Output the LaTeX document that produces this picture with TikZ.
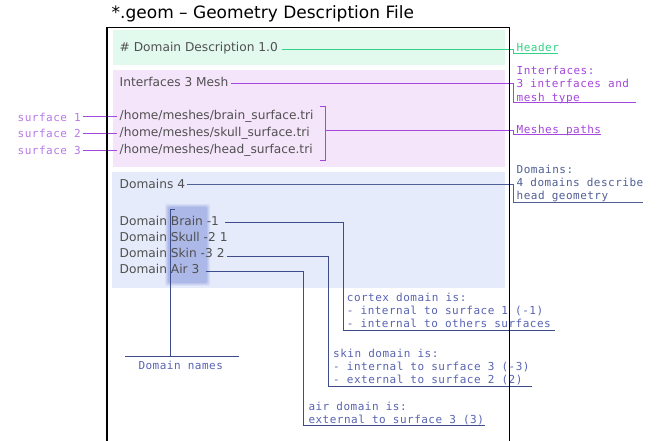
\documentclass[tikz,border=0pt]{standalone}
\usepackage{fontspec}
\setmainfont{DejaVu Sans}
\newfontfamily\notefont[LetterSpace=4.5]{DejaVu Sans Mono}
\usetikzlibrary{calc}
\definecolor{bandgreen}{RGB}{226,249,238}
\definecolor{bandpink}{RGB}{245,229,250}
\definecolor{bandblue}{RGB}{229,235,250}
\definecolor{hilite}{RGB}{172,184,232}
\definecolor{codegray}{RGB}{80,80,80}
\definecolor{hdrgreen}{RGB}{50,210,135}
\definecolor{ifpurple}{RGB}{165,70,220}
\definecolor{surfviolet}{RGB}{182,122,232}
\definecolor{domslate}{RGB}{80,95,150}
\definecolor{domtext}{RGB}{88,100,178}
\definecolor{domline}{RGB}{62,76,140}
\begin{document}
\begin{tikzpicture}[x=1pt,y=-1pt,
  codetxt/.style={font=\fontsize{12.2}{14}\selectfont, text=codegray, anchor=west, inner sep=0pt},
  notetxt/.style={font=\fontsize{11}{13.4}\selectfont\notefont, anchor=north west, inner sep=0pt, align=left},
  lead/.style={line width=1pt},
]
\useasboundingbox (0,0) rectangle (657,441);
\fill[white] (0,0) rectangle (657,441);

% title
\node[anchor=west, inner sep=0pt, font=\fontsize{17}{20}\selectfont] (title) at (111.5,13.5) {*.geom – Geometry Description File};

% bands
\fill[bandgreen] (113,30) rectangle (505,65.5);
\fill[bandpink] (113,70.5) rectangle (505,167.5);
\fill[bandblue] (112,172) rectangle (505,288);

% highlight behind domain names
\foreach \e/\o in {3/0.2,2/0.3,1/0.45,0/1}{
  \fill[hilite, opacity=\o, rounded corners=2pt] (168-\e,207-\e) rectangle (207+\e,283+\e);
}

% code lines
\node[codetxt] (hdrtxt) at (119.5,47.7) {\# Domain Description 1.0};
\node[codetxt] (iftxt) at (119.5,81.7) {Interfaces 3 Mesh};
\node[codetxt] (path1) at (119.5,116.7) {/home/meshes/brain\_surface.tri};
\node[codetxt] (path2) at (119.5,133.3) {/home/meshes/skull\_surface.tri};
\node[codetxt] (path3) at (119.5,150.5) {/home/meshes/head\_surface.tri};
\node[codetxt] (domtxt) at (119.5,184) {Domains 4};
\node[codetxt] (d1) at (119.5,220.5) {Domain Brain -1};
\node[codetxt] (d2) at (119.5,236.8) {Domain Skull -2 1};
\node[codetxt] (d3) at (119.5,253) {Domain Skin -3 2};
\node[codetxt] (d4) at (119.5,269.2) {Domain Air 3};

% surface labels
\node[notetxt, text=surfviolet, anchor=east] (s1) at (81,117) {surface 1};
\node[notetxt, text=surfviolet, anchor=east] (s2) at (81,133.5) {surface 2};
\node[notetxt, text=surfviolet, anchor=east] (s3) at (81,150.8) {surface 3};
\draw[lead, ifpurple] ($(s1.east)+(2,0)$) -- ($(s1.east -| path1.west)+(-3,0)$);
\draw[lead, ifpurple] ($(s2.east)+(2,0)$) -- ($(s2.east -| path2.west)+(-3,0)$);
\draw[lead, ifpurple] ($(s3.east)+(2,0)$) -- ($(s3.east -| path3.west)+(-3,0)$);

% right-hand notes
\node[notetxt, text=hdrgreen] (hdrnote) at (516.5,42.5) {Header};
\node[notetxt, text=ifpurple] (ifnote) at (516.5,66) {Interfaces:\\3 interfaces and\\mesh type};
\node[notetxt, text=ifpurple] (meshnote) at (516.5,124.5) {Meshes paths};
\node[notetxt, text=domslate] (domnote) at (516.5,164.5) {Domains:\\4 domains describe\\head geometry};

% connector corners
\coordinate (hdrK) at (513,49.3);
\coordinate (hdrU) at (558,53.3);
\coordinate (ifK) at (513,83.3);
\coordinate (ifU) at (636,102.7);
\coordinate (meshK) at (513,131);
\coordinate (meshU) at (601,135);
\coordinate (domK) at (513,184.5);
\coordinate (domU) at (643,203);

\draw[lead, hdrgreen] ($(hdrtxt.east |- hdrK)+(4,0)$) -- (hdrK) |- (hdrU);
\draw[lead, ifpurple] ($(iftxt.east |- ifK)+(2,0)$) -- (ifK) |- (ifU);

% bracket for mesh paths
\coordinate (brT) at (325,107);
\coordinate (brB) at (325,160.5);
\draw[lead, ifpurple] ($(brT)+(-5,0)$) -- (brT) -- (brB) -- ($(brB)+(-5,0)$);
\draw[lead, ifpurple] (brT |- meshK) -- (meshK) |- (meshU);

\draw[lead, domslate] ($(domtxt.east |- domK)+(2,0)$) -- (domK) |- (domU);

% domain notes
\node[notetxt, text=domtext] (cortex) at (346.7,292.5) {cortex domain is:\\- internal to surface 1 (-1)\\- internal to others surfaces};
\node[notetxt, text=domtext] (skin) at (333,348.5) {skin domain is:\\- internal to surface 3 (-3)\\- external to surface 2 (2)};
\node[notetxt, text=domtext] (air) at (308.3,402) {air domain is:\\external to surface 3 (3)};
\node[notetxt, text=domtext] (dnames) at (138.3,361) {Domain names};

\coordinate (cxK) at (343.3,223);
\coordinate (cxU) at (555,331);
\coordinate (skK) at (328.3,257);
\coordinate (skU) at (532,386.7);
\coordinate (airK) at (303.3,272);
\coordinate (airU) at (485,425);
\draw[lead, domline] ($(d1.east |- cxK)+(6,0)$) -- (cxK) |- (cxU);
\draw[lead, domline] ($(d3.east |- skK)+(2,0)$) -- (skK) |- (skU);
\draw[lead, domline] ($(d4.east |- airK)+(6,0)$) -- (airK) |- (airU);

% domain names bracket
\coordinate (dnT) at (170,209.5);
\coordinate (dnJ) at (170,356);
\coordinate (dnL) at (125,356);
\coordinate (dnR) at (239.3,356);
\draw[lead, domline] ($(dnT)+(5,0)$) -- (dnT) -- (dnJ);
\draw[lead, domline] (dnL) -- (dnR);

% frame
\draw[line width=2pt] (106.7,441) -- (106.7,27.3);
\draw[line width=1.3pt] (106,27.3) -- (509.8,27.3);
\draw[line width=1pt] (509.3,27.3) -- (509.3,441);
\end{tikzpicture}
\end{document}
